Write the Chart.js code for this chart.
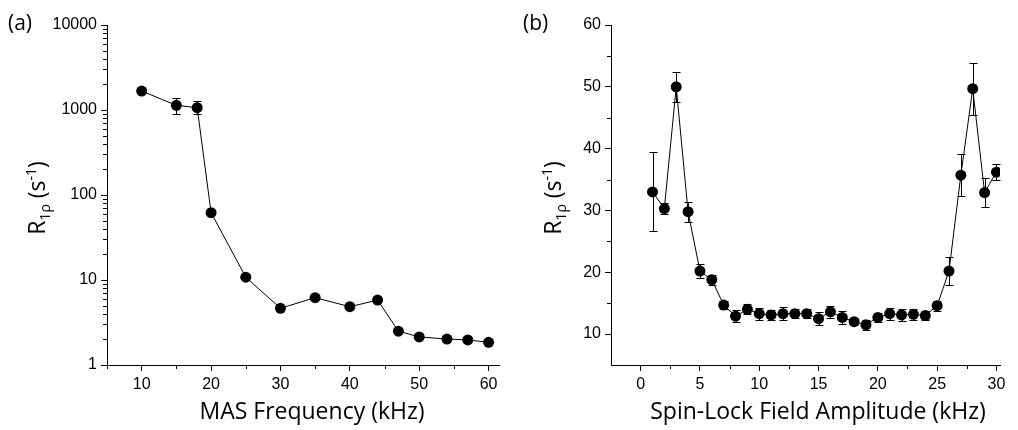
<!DOCTYPE html>
<html>
<head>
<meta charset="utf-8">
<script src="https://cdn.jsdelivr.net/npm/chart.js@4.4.1/dist/chart.umd.min.js"></script>
<style>
  body { margin: 0; background: #fff; width: 1018px; height: 430px; position: relative; overflow: hidden; font-family: 'Open Sans', sans-serif; color: #000; }
  .box { position: absolute; top: 0; height: 430px; }
  .panel { position: absolute; white-space: nowrap; font-size: 21px; line-height: 1; }
  .ytitle { position: absolute; white-space: nowrap; font-size: 23px; line-height: 1; transform: translate(-50%, -50%) rotate(-90deg); }
  .xtitle { position: absolute; white-space: nowrap; font-size: 23px; line-height: 1; transform: translate(-50%, -50%); }
  sub, sup { font-size: 14px; line-height: 0; }
</style>
</head>
<body>
<div class="box" style="left:0;width:510px"><canvas id="chartA"></canvas></div>
<div class="box" style="left:510px;width:508px"><canvas id="chartB"></canvas></div>

<div class="panel" style="left:8px;top:12px">(a)</div>
<div class="panel" style="left:523px;top:12px">(b)</div>
<div class="ytitle" style="left:36px;top:198px">R<sub>1ρ</sub> (s<sup>-1</sup>)</div>
<div class="ytitle" style="left:552px;top:198px">R<sub>1ρ</sub> (s<sup>-1</sup>)</div>
<div class="xtitle" style="left:312px;top:410px">MAS Frequency (kHz)</div>
<div class="xtitle" style="left:818px;top:410px">Spin-Lock Field Amplitude (kHz)</div>

<script>
// (a) R1rho vs MAS frequency
const masFreq = [10, 15, 18, 20, 25, 30, 35, 40, 44, 47, 50, 54, 57, 60];
const masR1rho = [1670, 1135, 1065, 62, 10.8, 4.65, 6.2, 4.85, 5.8, 2.5, 2.14, 2.02, 1.97, 1.85];
const masErrUp = [0, 265, 205, 0, 0, 0, 0, 0, 0, 0, 0, 0, 0, 0];
const masErrDown = [0, 235, 175, 0, 0, 0, 0, 0, 0, 0, 0, 0, 0, 0];
const masTicksX = [10, 20, 30, 40, 50, 60];
const masMinorX = [5, 15, 25, 35, 45, 55];
const masTicksY = [1, 10, 100, 1000, 10000];

// (b) R1rho vs spin-lock field amplitude
const slField = [1, 2, 3, 4, 5, 6, 7, 8, 9, 10, 11, 12, 13, 14, 15, 16, 17, 18, 19, 20, 21, 22, 23, 24, 25, 26, 27, 28, 29, 30];
const slR1rho = [33.0, 30.3, 50.0, 29.8, 20.2, 18.8, 14.7, 12.9, 14.0, 13.3, 13.1, 13.3, 13.3, 13.3, 12.5,
                 13.6, 12.7, 12.0, 11.5, 12.7, 13.3, 13.1, 13.2, 13.0, 14.6, 20.2, 35.7, 49.7, 32.9, 36.2];
const slErr = [6.4, 0.9, 2.4, 1.6, 1.1, 0.8, 0.6, 1.0, 0.8, 1.0, 0.8, 1.1, 0.7, 0.7, 1.0,
               1.0, 1.0, 0.6, 0.8, 0.7, 1.0, 1.0, 0.9, 0.7, 0.8, 2.2, 3.4, 4.2, 2.3, 1.3];
const slTicksX = [0, 5, 10, 15, 20, 25, 30];
const slMinorX = [2.5, 7.5, 12.5, 17.5, 22.5, 27.5];
const slTicksY = [10, 20, 30, 40, 50, 60];
const slMinorY = [15, 25, 35, 45, 55];

// minor ticks of the log axis: 2..9 in each decade
const masMinorY = [];
[1, 10, 100, 1000].forEach(d => { for (let k = 2; k <= 9; k++) masMinorY.push(k * d); });

// error bars and short minor ticks
const extras = {
  id: 'extras',
  afterDatasetsDraw(chart, args, opts) {
    const ctx = chart.ctx, xs = chart.scales.x, ys = chart.scales.y, area = chart.chartArea;
    ctx.save();
    ctx.strokeStyle = '#000';
    ctx.lineWidth = 1;
    ctx.beginPath();
    chart.data.datasets[0].data.forEach((p, i) => {
      const up = opts.errUp[i], dn = opts.errDown[i];
      if (!up && !dn) return;
      const px = Math.round(xs.getPixelForValue(p.x)) + 0.5;
      const top = Math.round(ys.getPixelForValue(p.y + up)) + 0.5;
      const bot = Math.round(ys.getPixelForValue(p.y - dn)) + 0.5;
      ctx.moveTo(px, top); ctx.lineTo(px, bot);
      ctx.moveTo(px - 4, top); ctx.lineTo(px + 4, top);
      ctx.moveTo(px - 4, bot); ctx.lineTo(px + 4, bot);
    });
    opts.minorX.forEach(v => {
      const px = Math.round(xs.getPixelForValue(v)) + 0.5;
      ctx.moveTo(px, area.bottom); ctx.lineTo(px, area.bottom + 4);
    });
    opts.minorY.forEach(v => {
      const py = Math.round(ys.getPixelForValue(v)) + 0.5;
      ctx.moveTo(area.left, py); ctx.lineTo(area.left - 4, py);
    });
    ctx.stroke();
    ctx.restore();
  }
};

const tickFont = { family: "'Liberation Sans', Arial, sans-serif", size: 16 };

function axis(extra) {
  return Object.assign({
    grid: { drawOnChartArea: false, tickLength: 6, color: '#000', tickColor: '#000', tickWidth: 1 },
    border: { color: '#000', width: 1 },
    ticks: { color: '#000', font: tickFont, padding: 4, maxRotation: 0, autoSkip: false }
  }, extra);
}

function series(xv, yv) {
  return [{
    data: xv.map((x, i) => ({ x: x, y: yv[i] })),
    showLine: true,
    borderColor: '#000',
    borderWidth: 1,
    backgroundColor: '#000',
    pointRadius: 5.5,
    pointBorderWidth: 0
  }];
}

new Chart(document.getElementById('chartA'), {
  type: 'scatter',
  data: { datasets: series(masFreq, masR1rho) },
  options: {
    responsive: true,
    maintainAspectRatio: false,
    animation: false,
    layout: { padding: { top: 25, right: 11, left: 0, bottom: 0 } },
    plugins: {
      legend: { display: false },
      tooltip: { enabled: false },
      extras: { errUp: masErrUp, errDown: masErrDown, minorX: masMinorX, minorY: masMinorY }
    },
    scales: {
      x: axis({
        type: 'linear', min: 5, max: 61.5,
        afterBuildTicks: s => { s.ticks = masTicksX.map(v => ({ value: v })); },
        afterFit: s => { s.height = 65; }
      }),
      y: axis({
        type: 'logarithmic', min: 1, max: 10000,
        afterBuildTicks: s => { s.ticks = masTicksY.map(v => ({ value: v })); },
        afterFit: s => { s.width = 107; },
        ticks: { color: '#000', font: tickFont, padding: 4, autoSkip: false, callback: v => String(v) }
      })
    }
  },
  plugins: [extras]
});

new Chart(document.getElementById('chartB'), {
  type: 'scatter',
  data: { datasets: series(slField, slR1rho) },
  options: {
    responsive: true,
    maintainAspectRatio: false,
    animation: false,
    layout: { padding: { top: 25, right: 18, left: 0, bottom: 0 } },
    plugins: {
      legend: { display: false },
      tooltip: { enabled: false },
      extras: { errUp: slErr, errDown: slErr, minorX: slMinorX, minorY: slMinorY }
    },
    scales: {
      x: axis({
        type: 'linear', min: -2.5, max: 30.3,
        afterBuildTicks: s => { s.ticks = slTicksX.map(v => ({ value: v })); },
        afterFit: s => { s.height = 65; }
      }),
      y: axis({
        type: 'linear', min: 5, max: 60,
        afterBuildTicks: s => { s.ticks = slTicksY.map(v => ({ value: v })); },
        afterFit: s => { s.width = 101; }
      })
    }
  },
  plugins: [extras]
});
</script>
</body>
</html>
